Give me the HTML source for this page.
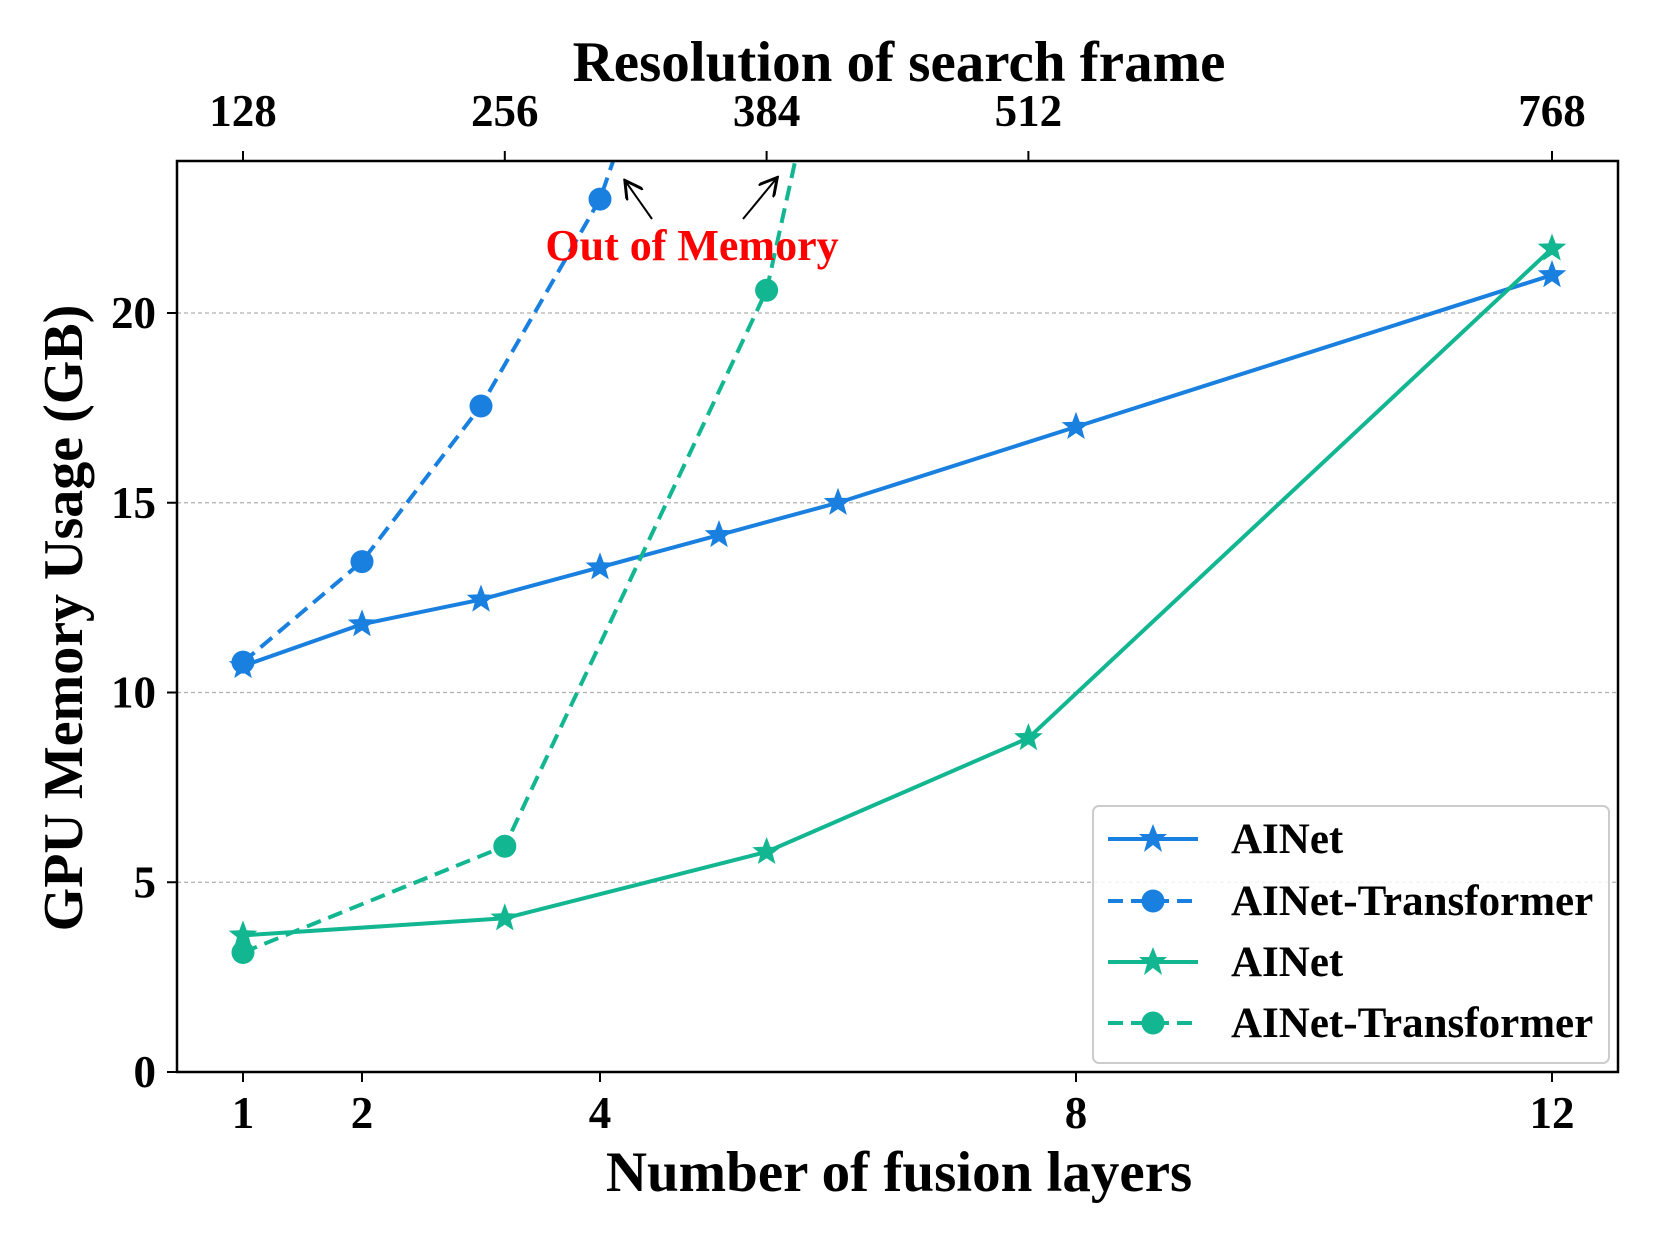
<!DOCTYPE html>
<html><head><meta charset="utf-8"><style>
html,body{margin:0;padding:0;background:#fff}
svg{display:block;font-family:"Liberation Serif",serif;font-weight:bold}
</style></head><body>
<svg id="chart" width="1661" height="1251" viewBox="0 0 1661 1251">
<defs><clipPath id="clip"><rect x="177" y="161" width="1441" height="911"/></clipPath>
<marker id="arr" markerWidth="10" markerHeight="10" refX="8" refY="5" orient="auto"><path d="M0,0 L9,5 L0,10" fill="none" stroke="#000" stroke-width="1.5"/></marker></defs>
<g id="grid"></g><g id="series" clip-path="url(#clip)"></g><g id="axes"></g>
</svg>
<script>
const xTickPos=[0,1,3,7,11];
const xTickLabels=["1","2","4","8","12"];
const topTicks=[128,256,384,512,768];
const yTicks=[0,5,10,15,20];
const ainetBlueX=[0,1,2,3,4,5,7,11];
const ainetBlueY=[10.7,11.8,12.45,13.3,14.15,15.0,17.0,21.0];
const transBlueX=[0,1,2,3];
const transBlueY=[10.8,13.45,17.55,23.0];
const resGreenAinet=[128,256,384,512,768];
const ainetGreenY=[3.6,4.05,5.8,8.8,21.7];
const resGreenTrans=[128,256,384];
const transGreenY=[3.15,5.95,20.6];
const BLUE="#1a80e0",GREEN="#12b690";
const NS="http://www.w3.org/2000/svg";
const L=177,R=1618,T=161,B=1072;
const x0=243,dx=119;
function xs(p){return x0+p*dx;}
function xr(r){return xs((r-128)/640*11);}
function ys(v){return B-v*37.95;}
function mk(tag,attrs,parent,text){const e=document.createElementNS(NS,tag);for(const k in attrs)e.setAttribute(k,attrs[k]);if(text!==undefined)e.textContent=text;parent.appendChild(e);return e;}
const grid=document.getElementById('grid'),ser=document.getElementById('series'),ax=document.getElementById('axes');
yTicks.forEach(v=>{if(v===0)return;const g=mk('line',{x1:L,x2:R,y1:ys(v),y2:ys(v),stroke:'#b0b0b0','stroke-width':1.2,'stroke-dasharray':'4,3'},grid);

});
function star(cx,cy,r,fill,parent){let d='';for(let i=0;i<10;i++){const rr=i%2?r*0.42:r;const a=-Math.PI/2+i*Math.PI/5;d+=(i?'L':'M')+(cx+rr*Math.cos(a)).toFixed(1)+','+(cy+rr*Math.sin(a)).toFixed(1);}return mk('path',{d:d+'Z',fill:fill},parent);}
function series(xsArr,ysArr,color,dash,marker,name,ext){
  const pts=xsArr.map((x,i)=>[x,ys(ysArr[i])]);
  if(ext){const n=pts.length,a=pts[n-2],b=pts[n-1];const t=(T-20-b[1])/(b[1]-a[1]);const ex=b[0]+(b[0]-a[0])*t*ext;pts.push([ex,T-20]);}
  const pl=mk('polyline',{points:pts.map(p=>p.join(',')).join(' '),fill:'none',stroke:color,'stroke-width':4,'stroke-dasharray':dash||'none'},ser);
  
  
  xsArr.forEach((x,i)=>{const m=marker==='star'?star(x,ys(ysArr[i]),15,color,ser):mk('circle',{cx:x,cy:ys(ysArr[i]),r:11.5,fill:color},ser);
  
  });
}
series(ainetBlueX.map(xs),ainetBlueY,BLUE,null,'star','ainet-blue');
series(transBlueX.map(xs),transBlueY,BLUE,'15,8','circle','ainet-transformer-blue',0.6);
series(resGreenAinet.map(xr),ainetGreenY,GREEN,null,'star','ainet-green');
series(resGreenTrans.map(xr),transGreenY,GREEN,'15,8','circle','ainet-transformer-green',0.47);
const fr=mk('rect',{x:L,y:T,width:R-L,height:B-T,fill:'none',stroke:'#000','stroke-width':2.5},ax);


xTickPos.forEach((p,i)=>{mk('line',{x1:xs(p),x2:xs(p),y1:B,y2:B+10,stroke:'#000','stroke-width':2},ax);
const t=mk('text',{x:xs(p),y:1128,'text-anchor':'middle','font-size':45},ax,xTickLabels[i]);

});
topTicks.forEach(r=>{mk('line',{x1:xr(r),x2:xr(r),y1:T,y2:T-10,stroke:'#000','stroke-width':2},ax);
const t=mk('text',{x:xr(r),y:126,'text-anchor':'middle','font-size':45},ax,String(r));

});
yTicks.forEach(v=>{mk('line',{x1:L,x2:L-10,y1:ys(v),y2:ys(v),stroke:'#000','stroke-width':2},ax);
const t=mk('text',{x:156,y:ys(v)+15,'text-anchor':'end','font-size':45},ax,String(v));

});
</script>
<svg width="1661" height="1251" style="position:absolute;left:0;top:0">
<text x="899" y="81" text-anchor="middle" font-size="57">Resolution of search frame</text>
<text x="899" y="1191" text-anchor="middle" font-size="57">Number of fusion layers</text>
<text transform="translate(82,618) rotate(-90)" text-anchor="middle" font-size="56">GPU Memory Usage (GB)</text>
<text x="692" y="260" text-anchor="middle" font-size="44" fill="#ff0000">Out of Memory</text>
<line x1="652" y1="219" x2="626" y2="182" stroke="#000" stroke-width="2" marker-end="url(#arr)"/>
<line x1="743" y1="219" x2="776" y2="179" stroke="#000" stroke-width="2" marker-end="url(#arr)"/>
<g>
<rect x="1093" y="806" width="516" height="257" rx="6" fill="#fff" fill-opacity="0.85" stroke="#ccc" stroke-width="2"/>
<line x1="1108" y1="839" x2="1198" y2="839" stroke="#1a80e0" stroke-width="4"/>
<path d="M1153,824 L1157,834 L1167,834 L1159,841 L1162,852 L1153,845 L1144,852 L1147,841 L1139,834 L1149,834Z" fill="#1a80e0"/>
<text x="1231" y="853" font-size="43">AINet</text>
<line x1="1108" y1="901" x2="1198" y2="901" stroke="#1a80e0" stroke-width="4" stroke-dasharray="15,8"/>
<circle cx="1153" cy="901" r="11.5" fill="#1a80e0"/>
<text x="1231" y="915" font-size="43">AINet-Transformer</text>
<line x1="1108" y1="962" x2="1198" y2="962" stroke="#12b690" stroke-width="4"/>
<path d="M1153,947 L1157,957 L1167,957 L1159,964 L1162,975 L1153,968 L1144,975 L1147,964 L1139,957 L1149,957Z" fill="#12b690"/>
<text x="1231" y="976" font-size="43">AINet</text>
<line x1="1108" y1="1023" x2="1198" y2="1023" stroke="#12b690" stroke-width="4" stroke-dasharray="15,8"/>
<circle cx="1153" cy="1023" r="11.5" fill="#12b690"/>
<text x="1231" y="1037" font-size="43">AINet-Transformer</text>
</g>
</svg>
</body></html>
